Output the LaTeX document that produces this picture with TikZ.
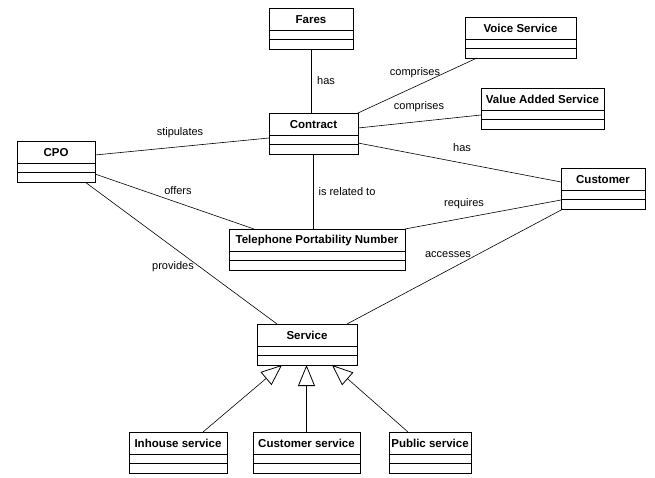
\documentclass[tikz,border=0pt]{standalone}
\usepackage{fontspec}
\setmainfont{Liberation Sans}
\usetikzlibrary{arrows.meta}
\tikzset{
  clsbox/.style={draw, line width=0.8pt, anchor=north west, minimum height=41pt, inner sep=0pt, outer sep=0pt},
  clsname/.style={font=\fontsize{11.5}{13}\selectfont\bfseries, inner sep=0pt},
  clsline/.style={line width=0.8pt},
  assoc/.style={line width=0.6pt},
  gen/.style={line width=0.6pt, -{Triangle[open, length=21pt, width=17pt, line width=0.8pt]}},
  lbl/.style={font=\fontsize{11}{13}\selectfont, inner sep=0pt}
}
\newcommand\umlcls[5]{%
  \node[clsbox, minimum width=#4pt] (#1) at (#2,#3) {};
  \node[clsname] (#1-t) at ([yshift=-11.5pt]#1.north) {#5};
  \draw[clsline] ([yshift=-22pt]#1.north west) -- ([yshift=-22pt]#1.north east);
  \draw[clsline] ([yshift=-31pt]#1.north west) -- ([yshift=-31pt]#1.north east);
}
\begin{document}
\begin{tikzpicture}[x=1pt, y=-1pt]
\useasboundingbox[fill=white] (0,0) rectangle (655,477);
\umlcls{Fares}{269}{8}{84}{Fares}
\umlcls{Voice}{465}{17}{111}{Voice Service}
\umlcls{VAS}{481}{88}{123}{Value Added Service}
\umlcls{CPO}{17}{141}{78}{CPO}
\umlcls{Contract}{269}{113}{89}{Contract}
\umlcls{Customer}{561}{168}{84}{Customer}
\umlcls{TPN}{229}{229}{176}{Telephone Portability Number}
\umlcls{Service}{257}{324}{100}{Service}
\umlcls{Inhouse}{129}{432}{98}{Inhouse service}
\umlcls{Custserv}{253}{432}{107}{Customer service}
\umlcls{Public}{389}{432}{82}{Public service}

% associations
\draw[assoc] (Fares.south) -- (Fares.south |- Contract.north);
\draw[assoc] ([xshift=12pt]Voice.south west) -- (Contract.north east);
\draw[assoc] ([yshift=-27pt]VAS.north west) -- ([yshift=-15pt]Contract.north east);
\draw[assoc] ([yshift=-14pt]CPO.north east) -- ([yshift=-25pt]Contract.north west);
\draw[assoc] ([yshift=-30pt]Contract.north east) -- ([yshift=-14pt]Customer.north west);
\draw[assoc] (Contract.south) -- (Contract.south |- TPN.north);
\draw[assoc] ([yshift=-33pt]CPO.north east) -- ([xshift=25pt]TPN.north west);
\draw[assoc] (TPN.north east) -- ([yshift=-32pt]Customer.north west);
\draw[assoc] ([xshift=68pt]CPO.south west) -- ([xshift=20pt]Service.north west);
\draw[assoc] ([xshift=2pt]Customer.south west) -- ([xshift=90pt]Service.north west);

% generalizations
\draw[gen] ([xshift=74pt]Inhouse.north west) -- ([xshift=25pt]Service.south west);
\draw[gen] (Custserv.north) -- (Custserv.north |- Service.south);
\draw[gen] ([xshift=19pt]Public.north west) -- ([xshift=75pt]Service.south west);

% labels
\node[lbl] (l1) at (326,81) {has};
\node[lbl] (l2) at (415,73) {comprises};
\node[lbl] (l3) at (419,107) {comprises};
\node[lbl] (l4) at (180,133) {stipulates};
\node[lbl] (l5) at (462,148) {has};
\node[lbl] (l6) at (347,192) {is related to};
\node[lbl] (l7) at (178,191) {offers};
\node[lbl] (l8) at (464,204) {requires};
\node[lbl] (l9) at (173,267) {provides};
\node[lbl] (l10) at (448,255) {accesses};
\end{tikzpicture}
\end{document}
